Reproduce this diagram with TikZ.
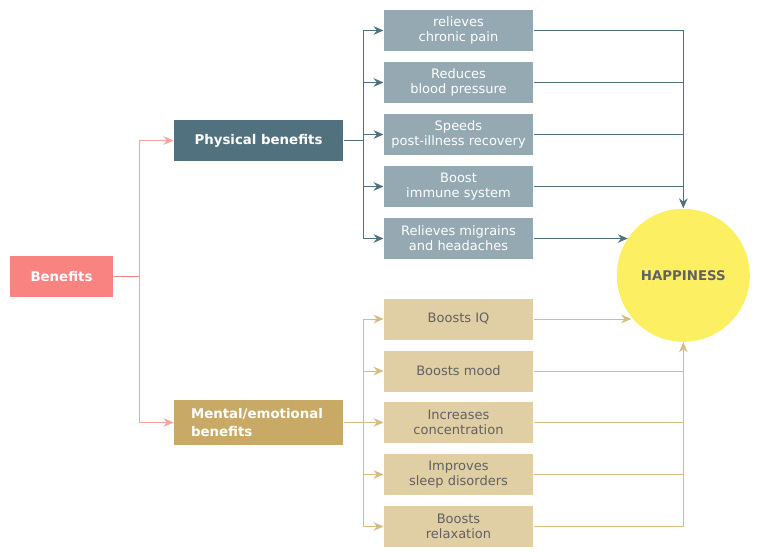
\documentclass[tikz,border=0pt]{standalone}
\usepackage{fontspec}
\setmainfont{DejaVu Sans}
\usepackage{tikz}
\usepackage{xcolor}
\usetikzlibrary{arrows.meta}

\definecolor{benred}{HTML}{F88380}
\definecolor{benline}{HTML}{F7A2A0}
\definecolor{physdark}{HTML}{51717F}
\definecolor{physlight}{HTML}{94A9B2}
\definecolor{mentdark}{HTML}{C8A966}
\definecolor{mentlight}{HTML}{E0CEA5}
\definecolor{mentline}{HTML}{D6BC80}
\definecolor{happyyellow}{HTML}{FCF062}
\definecolor{greytext}{HTML}{626262}

\begin{document}
\begin{tikzpicture}[x=0.75pt,y=-0.75pt,->,>={Stealth[length=7.5pt,width=6.5pt,inset=2.5pt]},line width=0.75pt,align=center]

    \tikzstyle{root}=[fill=benred,text=white,font=\bfseries,minimum width=77.25pt,minimum height=30.75pt]
    \tikzstyle{physmain}=[fill=physdark,text=white,font=\bfseries,minimum width=126.75pt,minimum height=30.75pt]
    \tikzstyle{mentmain}=[fill=mentdark,text=white,font=\bfseries\fontsize{10}{14}\selectfont,align=left,text width=101.25pt,inner xsep=12.75pt,minimum height=33.75pt]
    \tikzstyle{physleaf}=[fill=physlight,text=white,font=\fontsize{9.75}{11.25}\selectfont,minimum width=111.75pt,minimum height=30.75pt,inner sep=0pt]
    \tikzstyle{mentleaf}=[physleaf,fill=mentlight,text=greytext]
    \tikzstyle{happy}=[circle,fill=happyyellow,text=greytext,font=\bfseries,minimum size=99.75pt]

    \useasboundingbox (0,0) rectangle (757,553);

    \node[root] (benefits) at (61.5,276.5) {Benefits};
    \node[physmain] (physical) at (258.5,140.5) {Physical benefits};
    \node[mentmain] (mental) at (258.5,422.5) {Mental/emotional\\benefits};

    \node[physleaf] (pain) at (458.5,30.5) {relieves\\chronic pain};
    \node[physleaf] (pressure) at (458.5,82.5) {Reduces\\blood pressure};
    \node[physleaf] (recovery) at (458.5,134.5) {Speeds\\post-illness recovery};
    \node[physleaf] (immune) at (458.5,186.5) {Boost\\immune system};
    \node[physleaf] (migraine) at (458.5,238.5) {Relieves migrains\\and headaches};

    \node[mentleaf] (iq) at (458.5,319) {Boosts IQ};
    \node[mentleaf] (mood) at (458.5,371) {Boosts mood};
    \node[mentleaf] (concentration) at (458.5,422.5) {Increases\\concentration};
    \node[mentleaf] (sleep) at (458.5,474.5) {Improves\\sleep disorders};
    \node[mentleaf] (relax) at (458.5,526.5) {Boosts\\relaxation};

    \node[happy] (happiness) at (683.3,275.3) {HAPPINESS};

    % root to the two groups
    \coordinate (bensplit) at (139,276.5);
    \draw[-,benred] (benefits) -- (bensplit);
    \draw[benline] (bensplit) |- (physical);
    \draw[benline] (bensplit) |- (mental);

    % physical benefits
    \coordinate (physsplit) at (363,140.5);
    \draw[-,physdark] (physical) -- (physsplit);
    \draw[physdark] (physsplit) |- (pain);
    \draw[physdark] (physsplit) |- (pressure);
    \draw[physdark] (physsplit) |- (recovery);
    \draw[physdark] (physsplit) |- (immune);
    \draw[physdark] (physsplit) |- (migraine);

    \draw[physdark] (pain) -| (happiness);
    \draw[-,physdark] (pressure) -- (pressure -| happiness);
    \draw[-,physdark] (recovery) -- (recovery -| happiness);
    \draw[-,physdark] (immune) -- (immune -| happiness);
    \draw[physdark] (migraine.east) -- (migraine.east -| happiness.146);

    % mental benefits
    \coordinate (mentsplit) at (363,422.5);
    \draw[-,mentline] (mental) -- (mentsplit);
    \draw[mentline] (mentsplit) |- (iq);
    \draw[mentline] (mentsplit) |- (mood);
    \draw[mentline] (mentsplit) |- (concentration);
    \draw[mentline] (mentsplit) |- (sleep);
    \draw[mentline] (mentsplit) |- (relax);

    \draw[mentline] (iq.east) -- (iq.east -| happiness.219);
    \draw[-,mentline] (mood) -- (mood -| happiness);
    \draw[-,mentline] (concentration) -- (concentration -| happiness);
    \draw[-,mentline] (sleep) -- (sleep -| happiness);
    \draw[mentline] (relax) -| (happiness);

\end{tikzpicture}
\end{document}
